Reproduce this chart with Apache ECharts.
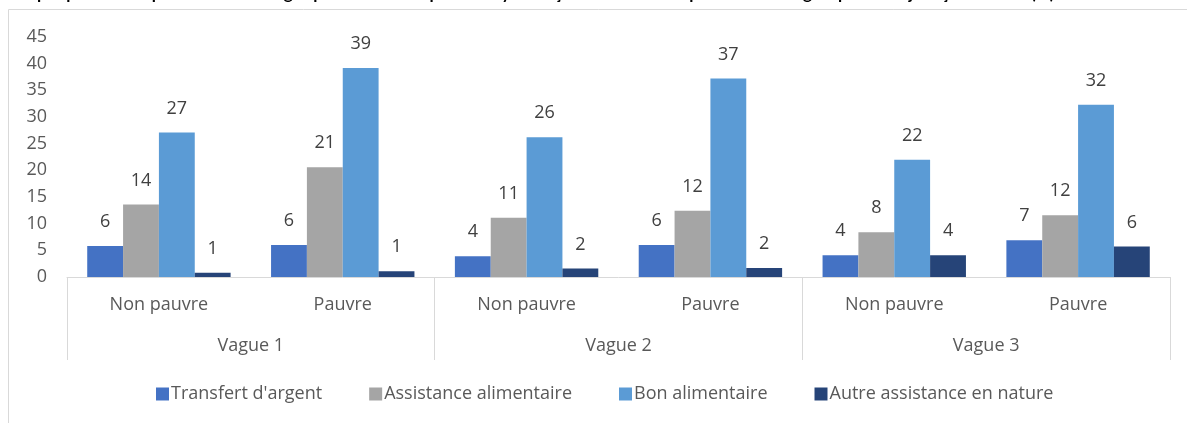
<!DOCTYPE html>
<html>
<head>
<meta charset="utf-8">
<script src="https://cdn.jsdelivr.net/npm/echarts@6/dist/echarts.min.js"></script>
<style>
  html, body { margin: 0; padding: 0; background: #fff; }
  #chart { width: 1187px; height: 423px; }
</style>
</head>
<body>
<div id="chart"></div>
<script>
// données (%)
const sousCategories = ['Non pauvre', 'Pauvre', 'Non pauvre', 'Pauvre', 'Non pauvre', 'Pauvre']
const vagues = ['Vague 1', 'Vague 2', 'Vague 3']
const seriesNames = ['Transfert d\'argent', 'Assistance alimentaire', 'Bon alimentaire', 'Autre assistance en nature']
const transfertArgent = [5.8, 6.0, 3.9, 6.0, 4.1, 6.9]
const assistanceAlim = [13.6, 20.6, 11.1, 12.4, 8.4, 11.6]
const bonAlim = [27.1, 39.2, 26.2, 37.2, 22.0, 32.3]
const autreNature = [0.8, 1.1, 1.6, 1.7, 4.1, 5.7]
const couleurs = ['#4472C4', '#A5A5A5', '#5B9BD5', '#264478']
const yTicks = {min: 0, max: 45, interval: 5}

const txt = '#595959'
const fontFam = '"Open Sans", Lato, sans-serif'
const ligne = '#d9d9d9'

let chart = echarts.init(document.getElementById('chart'))

const allData = [transfertArgent, assistanceAlim, bonAlim, autreNature]

let option = {
    animation: false,
    color: couleurs,
    graphic: [
        { //cadre du graphique
            type: 'rect',
            shape: {x: 8.5, y: 9.5, width: 1200, height: 430},
            style: {fill: 'none', stroke: ligne, lineWidth: 1}
        },
        { //titre coupé en haut
            type: 'text',
            x: 10, y: -15,
            style: {
                text: 'Graphique 12 : Proportion des ménages pauvres et non pauvres ayant reçu une assistance parmi les ménages qui ont déjà reçu une aide (%)',
                font: 'bold 17px Lato, sans-serif',
                fill: '#000'
            }
        }
    ],
    grid: {left: 67, right: 17, top: 37, bottom: 146, containLabel: false},
    legend: {
        bottom: 15,
        left: 151,
        itemWidth: 13,
        itemHeight: 13,
        itemGap: 47,
        icon: 'rect',
        textStyle: {color: txt, fontSize: 18, fontFamily: fontFam, padding: [0, 0, 0, -3]},
        data: seriesNames
    },
    xAxis: [
        {
            type: 'category',
            data: sousCategories,
            position: 'bottom',
            axisLine: {show: true, lineStyle: {color: ligne, width: 1}},
            axisTick: {show: false},
            axisLabel: {color: txt, fontSize: 18, fontFamily: fontFam, margin: 19, interval: 0}
        },
        {
            type: 'category',
            data: vagues,
            position: 'bottom',
            axisLine: {show: false},
            axisTick: {show: true, length: 83, lineStyle: {color: ligne, width: 1}},
            axisLabel: {color: txt, fontSize: 18, fontFamily: fontFam, margin: 60, interval: 0}
        }
    ],
    yAxis: {
        type: 'value',
        min: yTicks.min,
        max: yTicks.max,
        interval: yTicks.interval,
        axisLine: {show: false},
        axisTick: {show: false},
        splitLine: {show: false},
        axisLabel: {color: txt, fontSize: 18, fontFamily: fontFam, margin: 20}
    },
    series: seriesNames.map(function (name, i) {
        return {
            name: name,
            type: 'bar',
            xAxisIndex: 0,
            barGap: '0%',
            barCategoryGap: '22%',
            data: allData[i],
            itemStyle: {color: couleurs[i]},
            label: {
                show: true,
                position: 'top',
                distance: 15,
                color: '#404040',
                fontSize: 18,
                fontFamily: fontFam,
                formatter: function (p) { return Math.round(p.value) }
            }
        }
    })
}

chart.setOption(option)
</script>
</body>
</html>
